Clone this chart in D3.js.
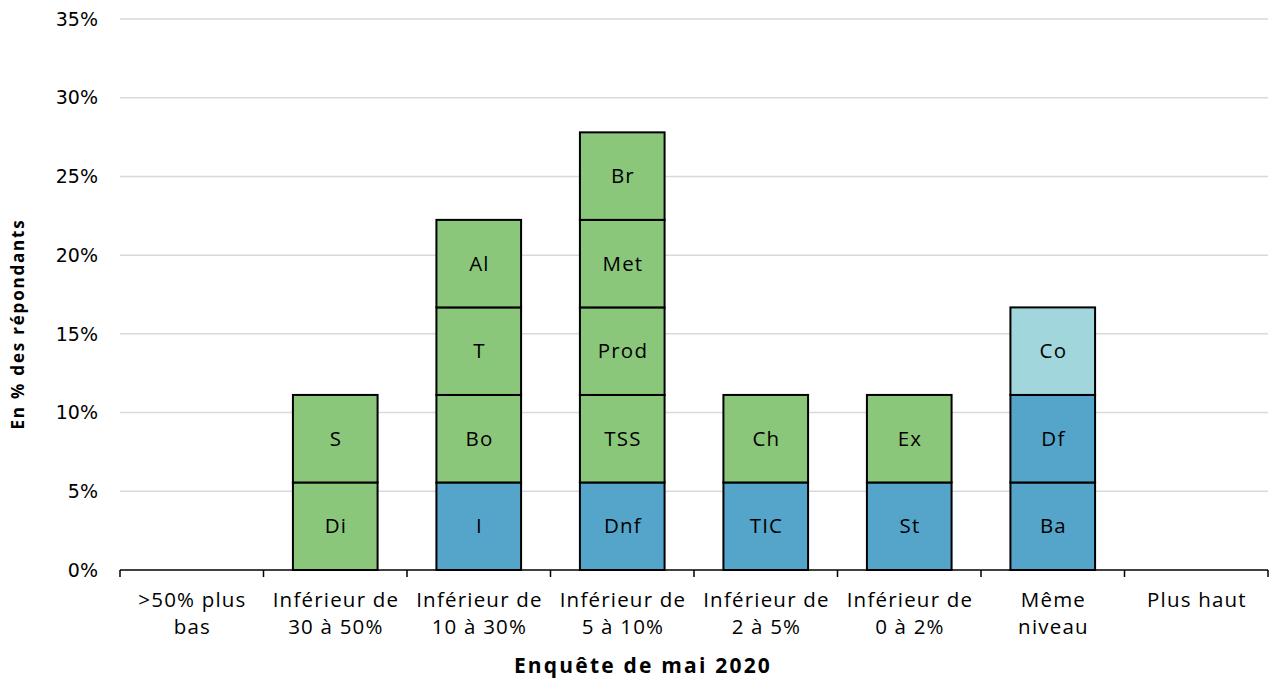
<!DOCTYPE html>
<html><head><meta charset="utf-8">
<script src="https://cdn.jsdelivr.net/npm/d3@7"></script>
<style>body{margin:0;background:#fff;} svg{display:block;}</style>
</head><body>
<svg id="c" width="1269" height="683"></svg>
<script>
const categories = [">50% plus\nbas","Inférieur de\n30 à 50%","Inférieur de\n10 à 30%","Inférieur de\n5 à 10%","Inférieur de\n2 à 5%","Inférieur de\n0 à 2%","Même\nniveau","Plus haut"];
const segLabels = [[],["Di","S"],["I","Bo","T","Al"],["Dnf","TSS","Prod","Met","Br"],["TIC","Ch"],["St","Ex"],["Ba","Df","Co"],[]];
const segValues = [[],[5.56,5.56],[5.56,5.56,5.56,5.56],[5.56,5.56,5.56,5.56,5.56],[5.56,5.56],[5.56,5.56],[5.56,5.56,5.56],[]];
const segGroups = [[],["g","g"],["b","g","g","g"],["b","g","g","g","g"],["b","g"],["b","g"],["b","b","l"],[]];
const yTicks = [0,5,10,15,20,25,30,35];
const colors = {g:"#8BC77B", b:"#55A5CB", l:"#A1D6DC"};

const svg = d3.select("#c");
const m = {l:120, r:1268, t:19, b:570};
const x = d3.scaleBand().domain(categories).range([m.l, m.r]).paddingInner(0.41).paddingOuter(0.205);
const y = d3.scaleLinear().domain([0,35]).range([m.b, m.t]);
const font = "'Open Sans', 'Noto Sans', sans-serif";

svg.append("g").selectAll("line").data(yTicks.filter(d=>d>0)).join("line")
  .attr("x1", m.l).attr("x2", m.r).attr("y1", d=>y(d)).attr("y2", d=>y(d))
  .attr("stroke", "#d9d9d9").attr("stroke-width", 1.5);

svg.append("g").selectAll("text").data(yTicks).join("text")
  .attr("x", 98).attr("y", d=>y(d)).attr("dy","0.35em").attr("text-anchor","end")
  .attr("font-family","'DejaVu Sans', sans-serif").attr("font-size",19).attr("fill","#000")
  .text(d=>d+"%");

const segs = [];
categories.forEach((c,i)=>{
  let base = 0;
  segValues[i].forEach((v,j)=>{
    segs.push({c, y0:base, y1:base+v, label:segLabels[i][j], g:segGroups[i][j]});
    base += v;
  });
});

const sg = svg.append("g");
sg.selectAll("rect").data(segs).join("rect")
  .attr("x", d=>x(d.c)).attr("width", x.bandwidth())
  .attr("y", d=>y(d.y1)).attr("height", d=>y(d.y0)-y(d.y1))
  .attr("fill", d=>colors[d.g]).attr("stroke","#000").attr("stroke-width",2);
sg.selectAll("text").data(segs).join("text")
  .attr("x", d=>x(d.c)+x.bandwidth()/2+0.7).attr("y", d=>y((d.y0+d.y1)/2)).attr("dy","0.35em")
  .attr("text-anchor","middle").attr("font-family",font).attr("font-size",20.5).attr("letter-spacing","1.2px").attr("fill","#000")
  .text(d=>d.label);

// x axis
const ax = svg.append("g");
ax.append("line").attr("x1",m.l).attr("x2",m.r).attr("y1",m.b).attr("y2",m.b).attr("stroke","#000").attr("stroke-width",1.5);
const tickXs = categories.map(c=>x(c)-x.step()*x.paddingInner()/2).concat([m.r]);
ax.selectAll("line.t").data(tickXs).join("line").attr("class","t")
  .attr("x1",d=>d).attr("x2",d=>d).attr("y1",m.b).attr("y2",m.b+7).attr("stroke","#000").attr("stroke-width",1.5);
categories.forEach(c=>{
  const cx = x(c)+x.bandwidth()/2+0.7;
  const t = ax.append("text").attr("x", cx).attr("y", 600)
    .attr("text-anchor","middle").attr("font-family",font).attr("font-size",20.5).attr("letter-spacing","1.2px").attr("fill","#000");
  c.split("\n").forEach((line,k)=>{
    t.append("tspan").attr("x", cx).attr("dy", k===0?"0.35em":"1.32em").text(line);
  });
});

svg.append("text").attr("x",643).attr("y",666).attr("dy","0.35em").attr("text-anchor","middle")
  .attr("font-family",font).attr("font-weight","bold").attr("font-size",21).attr("letter-spacing","2.2px").text("Enquête de mai 2020");
svg.append("text").attr("transform","translate(18,"+324+") rotate(-90)").attr("dy","0.35em")
  .attr("text-anchor","middle").attr("font-family",font).attr("font-weight","bold").attr("font-size",17).attr("letter-spacing","1.8px").text("En % des répondants");
</script>
</body></html>
